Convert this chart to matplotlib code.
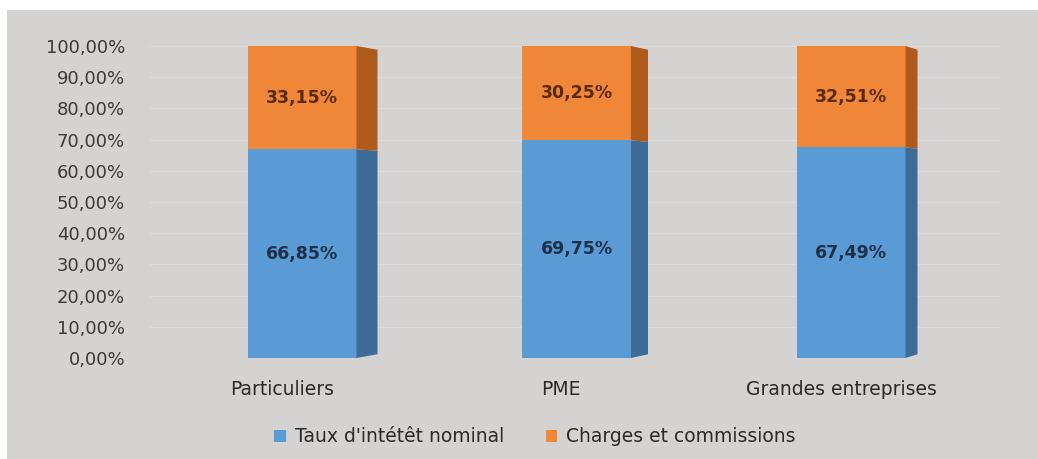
import matplotlib
matplotlib.use("Agg")
import matplotlib.pyplot as plt
from matplotlib.patches import Polygon, Rectangle, Patch
from matplotlib.ticker import FuncFormatter, MultipleLocator
import numpy as np

# ---- data ----
categories = ["Particuliers", "PME", "Grandes entreprises"]
taux = [66.85, 69.75, 67.49]          # Taux d'intétêt nominal (%)
charges = [33.15, 30.25, 32.51]       # Charges et commissions (%)
series_names = ["Taux d'intétêt nominal", "Charges et commissions"]

# ---- style ----
W, H, DPI = 1038, 459, 100
bg = "#d5d2d2"
blue, blue_side = "#5b9bd5", "#3d6c98"
orange, orange_side = "#ef8638", "#b05a1c"
side_px = [21, 17, 12]
label_shift_px = [20, 16, 10]
font = "DejaVu Sans"

fig = plt.figure(figsize=(W / DPI, H / DPI), dpi=DPI, facecolor="white")
bgrect = Rectangle((7 / W, 0), 1 - 7 / W, 1 - 10 / H,
                   transform=fig.transFigure, facecolor=bg,
                   edgecolor="none", zorder=-10)
fig.add_artist(bgrect)

ax_left, ax_right = 150, 1000
ax_top, ax_bot = 46, 358
ax = fig.add_axes([ax_left / W, (H - ax_bot) / H, (ax_right - ax_left) / W,
                   (ax_bot - ax_top) / H])
ax.set_facecolor("none")
ax.set_zorder(1)

spacing = 274.5
c0 = 302
xlim = (-(c0 - ax_left) / spacing, (ax_right - c0) / spacing)
ax.set_xlim(*xlim)
ax.set_ylim(0, 1.0)

x = np.arange(len(categories))
bw = 109 / spacing
t = np.array(taux) / 100
c = np.array(charges) / 100

ax.bar(x, t, width=bw, color=blue, zorder=3)
ax.bar(x, c, bottom=t, width=bw, color=orange, zorder=3)

k = 0.012
def yr(v):
    return v * (1 - 2 * k) + k

for i in range(len(categories)):
    d = side_px[i] / spacing
    xr = x[i] + bw / 2
    segs = [(0, t[i], blue_side), (t[i], t[i] + c[i], orange_side)]
    for lo, hi, col in segs:
        poly = Polygon([(xr, lo), (xr + d, yr(lo)), (xr + d, yr(hi)), (xr, hi)],
                       closed=True, facecolor=col, edgecolor="none", zorder=3)
        ax.add_patch(poly)
    ax.text(x[i], t[i] / 2, f"{taux[i]:.2f}%".replace(".", ","), ha="center",
            va="center", fontsize=12.5, fontweight="bold", color="#1e2f48",
            family=font, zorder=4)
    ax.text(x[i], t[i] + c[i] / 2, f"{charges[i]:.2f}%".replace(".", ","),
            ha="center", va="center", fontsize=12.5, fontweight="bold",
            color="#5a2a0c", family=font, zorder=4)

ax.yaxis.set_major_locator(MultipleLocator(0.1))
ax.yaxis.set_major_formatter(FuncFormatter(lambda v, p: f"{v*100:.2f}%".replace(".", ",")))
ax.grid(axis="y", color="#dddbdb", linewidth=1.0, zorder=1)
ax.set_axisbelow(True)

ax.set_xticks(x - np.array(label_shift_px) / spacing)
ax.set_xticklabels(categories)
for s in ax.spines.values():
    s.set_visible(False)
ax.tick_params(axis="both", length=0)
ax.tick_params(axis="y", pad=18, labelsize=13, labelcolor="#3a3a3a")
ax.tick_params(axis="x", pad=16, labelsize=13.5, labelcolor="#2a2a2a")
for lab in ax.get_xticklabels() + ax.get_yticklabels():
    lab.set_family(font)

handles = [Patch(facecolor=blue, edgecolor="none"), Patch(facecolor=orange, edgecolor="none")]
leg = fig.legend(handles, series_names, loc="center",
                 bbox_to_anchor=(535 / W, 1 - 437 / H), ncol=2, frameon=False,
                 prop={"family": font, "size": 13.5}, handlelength=0.6,
                 handleheight=0.6, handletextpad=0.5, columnspacing=2.2)
for txt in leg.get_texts():
    txt.set_color("#2a2a2a")

fig.savefig("out.png", dpi=DPI, facecolor=fig.get_facecolor())
